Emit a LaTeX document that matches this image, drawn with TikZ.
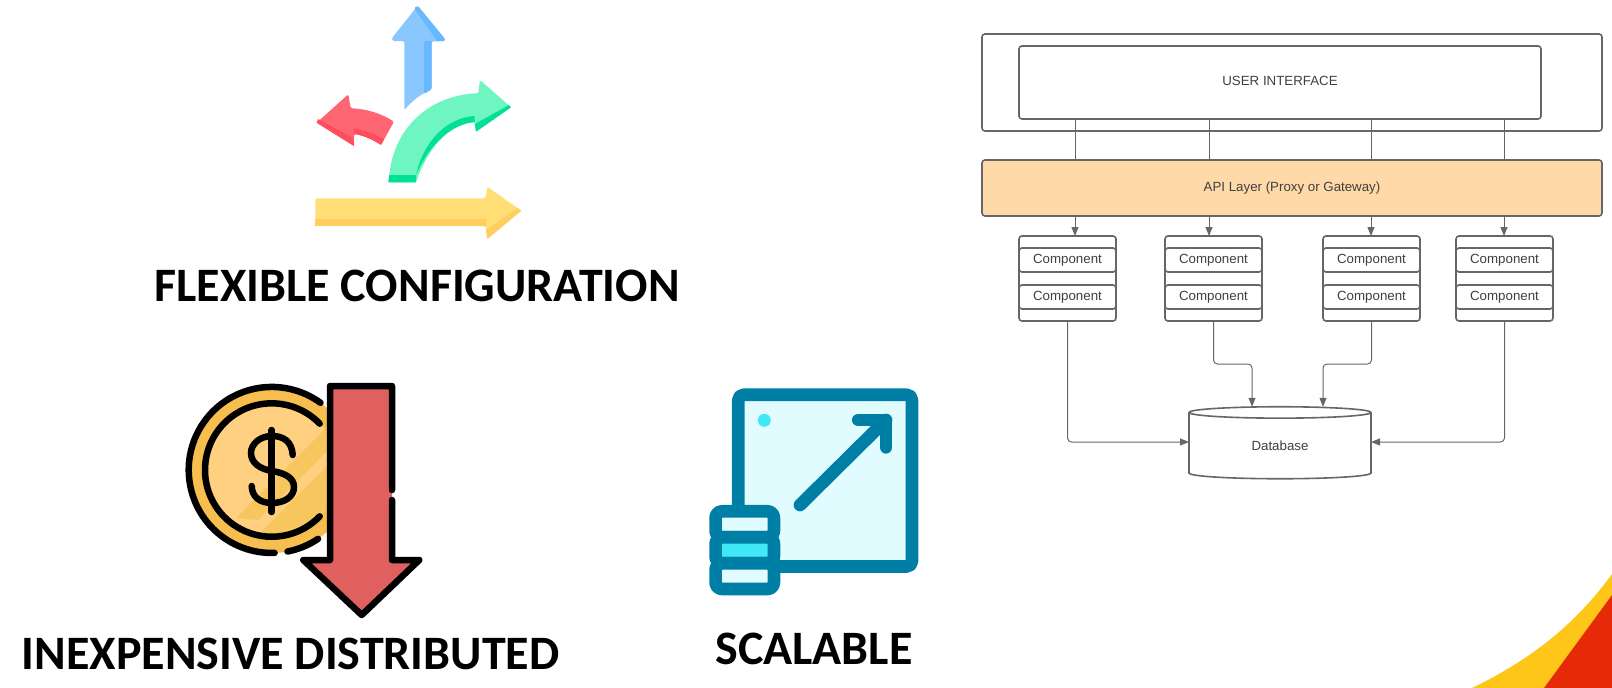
\documentclass[tikz,border=0pt]{standalone}
\usepackage{fontspec}
\setmainfont{Liberation Sans}
\newfontfamily\headfont{Carlito}[BoldFont=Carlito Bold]
\usetikzlibrary{positioning,shapes.geometric,arrows.meta}
\definecolor{linegray}{HTML}{666666}
\definecolor{textgray}{HTML}{404040}
\definecolor{apifill}{HTML}{FFD9A8}
\definecolor{teal}{HTML}{007FA6}
\definecolor{icefill}{HTML}{E0FCFF}
\definecolor{cyanfill}{HTML}{40E8F8}
\definecolor{bluelight}{HTML}{8AC7FF}
\definecolor{bluedark}{HTML}{66B8FF}
\definecolor{redlight}{HTML}{FF6673}
\definecolor{reddark}{HTML}{FF4D5E}
\definecolor{greenlight}{HTML}{6EF5C0}
\definecolor{greendark}{HTML}{00E096}
\definecolor{yellowlight}{HTML}{FFDF75}
\definecolor{yellowdark}{HTML}{FFCF5E}
\definecolor{coinouter}{HTML}{F5BE4E}
\definecolor{coininner}{HTML}{FFD07F}
\definecolor{coinband}{HTML}{F8C65E}
\definecolor{dropfill}{HTML}{E06060}
\definecolor{cornergold}{HTML}{FFC61A}
\definecolor{cornerred}{HTML}{E62A08}
\tikzstyle{box}=[draw=linegray,fill=white,line width=1.6pt,rounded corners=3pt,inner sep=0pt,outer sep=0pt,text=textgray,font=\fontsize{13.3}{16}\selectfont]
\tikzstyle{stack}=[box,minimum width=97pt,minimum height=85pt]
\tikzstyle{component}=[box,minimum width=97pt,minimum height=24pt]
\tikzstyle{wire}=[draw=linegray,line width=1pt]
\tikzstyle{link}=[wire,-{Triangle[length=9pt,width=7pt]},rounded corners=4pt]
\tikzstyle{heading}=[inner sep=0pt,font=\headfont\bfseries\fontsize{48}{54}\selectfont]
\tikzstyle{tealline}=[draw=teal,line width=12.7pt,line cap=round,line join=round]
\tikzstyle{coinline}=[draw=black,line width=6.5pt,line cap=round]

\begin{document}
\begin{tikzpicture}[x=1pt,y=-1pt]
\useasboundingbox (0,0) rectangle (1612,688);

% corner decoration
\fill[cornergold] (1472,688) .. controls (1530,660) and (1575,625) .. (1612,574) -- (1612,688) -- cycle;
\fill[cornerred] (1544,688) -- (1612,595) -- (1612,688) -- cycle;

% arrows icon
\fill[bluelight,rounded corners=1.5pt] (417.7,5.7) -- (445,39) -- (445,41) -- (431.7,41) -- (431.7,89.3) .. controls (421,94) and (412,101) .. (404.3,110) -- (404.3,41) -- (392,41) -- (392,38) -- cycle;
\fill[bluedark,rounded corners=1.5pt] (417.7,5.7) -- (445,39) -- (445,41) -- (431.7,41) -- (431.7,89.3) -- (424,94) -- (424,41) -- (437,41) -- (414,8) -- cycle;
\fill[redlight,rounded corners=1.5pt] (316.7,122.7) -- (348.3,94.3) -- (350.7,108.3) .. controls (368,109) and (382,114) .. (394,121.7) -- (381,145) .. controls (372,139) and (362,135) .. (354,134) -- (354,146) -- cycle;
\fill[reddark] (316.7,122.7) -- (354,146) -- (353.3,138) -- (318,119) -- cycle;
\fill[reddark] (384,139) .. controls (374,134) and (364,130) .. (353.3,128.3) -- (354,134) .. controls (362,135) and (372,139) .. (381,145) -- cycle;
\fill[greenlight,rounded corners=1.5pt] (388.3,182.3) -- (389.3,175) .. controls (395,125) and (432,95) .. (478.3,93.3) -- (480,80) -- (511,107.3) -- (476,131.7) -- (474.8,122) .. controls (452,124) and (430,143) .. (416,182.3) -- cycle;
\fill[greendark] (388.3,182.3) -- (389.3,175) -- (416,175) -- (416,182.3) -- cycle;
\fill[greendark] (511,107.3) -- (476,131.7) -- (474.8,124) -- (509,105) -- cycle;
\fill[greendark] (416,175) .. controls (424,140) and (447,118) .. (474.5,116) -- (474.8,122) .. controls (452,124) and (430,143) .. (416,175) -- cycle;
\fill[yellowlight,rounded corners=1.5pt] (315.3,198.3) -- (485.7,198.3) -- (487.3,186.7) -- (521.3,210.7) -- (487.3,239) -- (485.7,226) -- (315.3,226) -- cycle;
\fill[yellowdark] (315.3,219) -- (485.7,219) -- (485.7,226) -- (315.3,226) -- cycle;
\fill[yellowdark] (521.3,210.7) -- (487.3,239) -- (486,230) -- (518,208) -- cycle;

% coin icon
\fill[coinouter] (271.7,470) circle (83);
\fill[coininner] (271.7,470) circle (67);
\begin{scope}
\clip (271.7,470) circle (67);
\fill[coinband] (236,518) -- (330,424) -- (330,448) -- (258,520) -- cycle;
\fill[coinband] (258,535) -- (330,463) -- (340,520) -- (290,540) -- cycle;
\end{scope}
\draw[coinline] (320.5,402.8) arc (-54:-272:83);
\draw[coinline] (287.5,551.5) arc (79:56:83);
\draw[coinline] (319.7,423.7) arc (-44:-316:66.7);
\draw[coinline] (271.7,430) -- (271.7,512);
\draw[coinline] (292.7,455) .. controls (292,442) and (284,436) .. (272,436) .. controls (260,436) and (251,444) .. (251,453) .. controls (251,463) and (260,469) .. (272,471) .. controls (285,473) and (294,478) .. (294,487) .. controls (294,497) and (284,503) .. (272,503) .. controls (260,503) and (252,497) .. (251.7,486);
\fill[dropfill] (330,386) -- (392,386) -- (392,560) -- (419.3,560) -- (361.7,615) -- (303.3,560) -- (330,560) -- cycle;
\draw[coinline,line join=round] (392,490) -- (392,386) -- (330,386) -- (330,560) -- (303.3,560) -- (361.7,615) -- (419.3,560) -- (392,560) -- (392,500);

% scaling icon
\draw[tealline,fill=icefill,rounded corners=5.5pt] (738.3,394.7) rectangle (912,566.5);
\fill[cyanfill] (764.3,420.3) circle (6.5);
\draw[tealline] (800,505) -- (886,420);
\draw[tealline] (858.3,420) -- (886,420) -- (886,447.3);
\draw[tealline,fill=icefill,rounded corners=6.5pt] (715.6,511.3) rectangle (773.9,537.3);
\draw[tealline,fill=cyanfill,rounded corners=6.5pt] (715.6,537.3) rectangle (773.9,563.3);
\draw[tealline,fill=icefill,rounded corners=6.5pt] (715.6,563.3) rectangle (773.9,589);

\node (flexible) [heading] at (417,286) {FLEXIBLE CONFIGURATION};
\node (cheap) [heading] at (290.5,654) {INEXPENSIVE DISTRIBUTED};
\node (scalable) [heading] at (814,649) {SCALABLE};

% architecture
\node (shell) [box,minimum width=620pt,minimum height=97pt] at (1292,82.5) {};
\node (ui) [box,minimum width=522pt,minimum height=73pt] at (1280,82.5) {\raisebox{4pt}{USER INTERFACE}};
\node (api) [box,fill=apifill,minimum width=620pt,minimum height=56pt,below=29pt of shell] {API Layer (Proxy or Gateway)};

\node (c1) [stack] at (1067.5,278.5) {};
\node (c2) [stack,right=49pt of c1] {};
\node (c3) [stack,right=61pt of c2] {};
\node (c4) [stack,right=36pt of c3] {};
\node (c1a) [component,below=12pt of c1.north] {Component};
\node (c1b) [component,below=13pt of c1a] {Component};
\node (c2a) [component,below=12pt of c2.north] {Component};
\node (c2b) [component,below=13pt of c2a] {Component};
\node (c3a) [component,below=12pt of c3.north] {Component};
\node (c3b) [component,below=13pt of c3a] {Component};
\node (c4a) [component,below=12pt of c4.north] {Component};
\node (c4b) [component,below=13pt of c4a] {Component};

\node (db) [box,cylinder,shape border rotate=90,shape aspect=0.2,rounded corners=0pt,minimum width=182pt,minimum height=72pt] at (1280,446) {\raisebox{-8pt}{Database}};

\coordinate (p1) at (1075,0);
\coordinate (p2) at (1209,0);
\coordinate (p3) at (1371,0);
\coordinate (p4) at (1504,0);
\coordinate (p5) at (1252,364);
\coordinate (p6) at (1323,364);
\coordinate (p7) at (0,442);

\draw[wire] (ui.south -| p1) -- (api.north -| p1);
\draw[wire] (ui.south -| p2) -- (api.north -| p2);
\draw[wire] (ui.south -| p3) -- (api.north -| p3);
\draw[wire] (ui.south -| p4) -- (api.north -| p4);
\draw[link] (api.south -| p1) -- (c1.north -| p1);
\draw[link] (api.south -| p2) -- (c2.north -| p2);
\draw[link] (api.south -| p3) -- (c3.north -| p3);
\draw[link] (api.south -| p4) -- (c4.north -| p4);
\draw[link] (c1.south) |- (db.west |- p7);
\draw[link] (c2.south) |- (p5) -- (db.north -| p5);
\draw[link] (c3.south) |- (p6) -- (db.north -| p6);
\draw[link] (c4.south) |- (db.east |- p7);
\end{tikzpicture}
\end{document}
